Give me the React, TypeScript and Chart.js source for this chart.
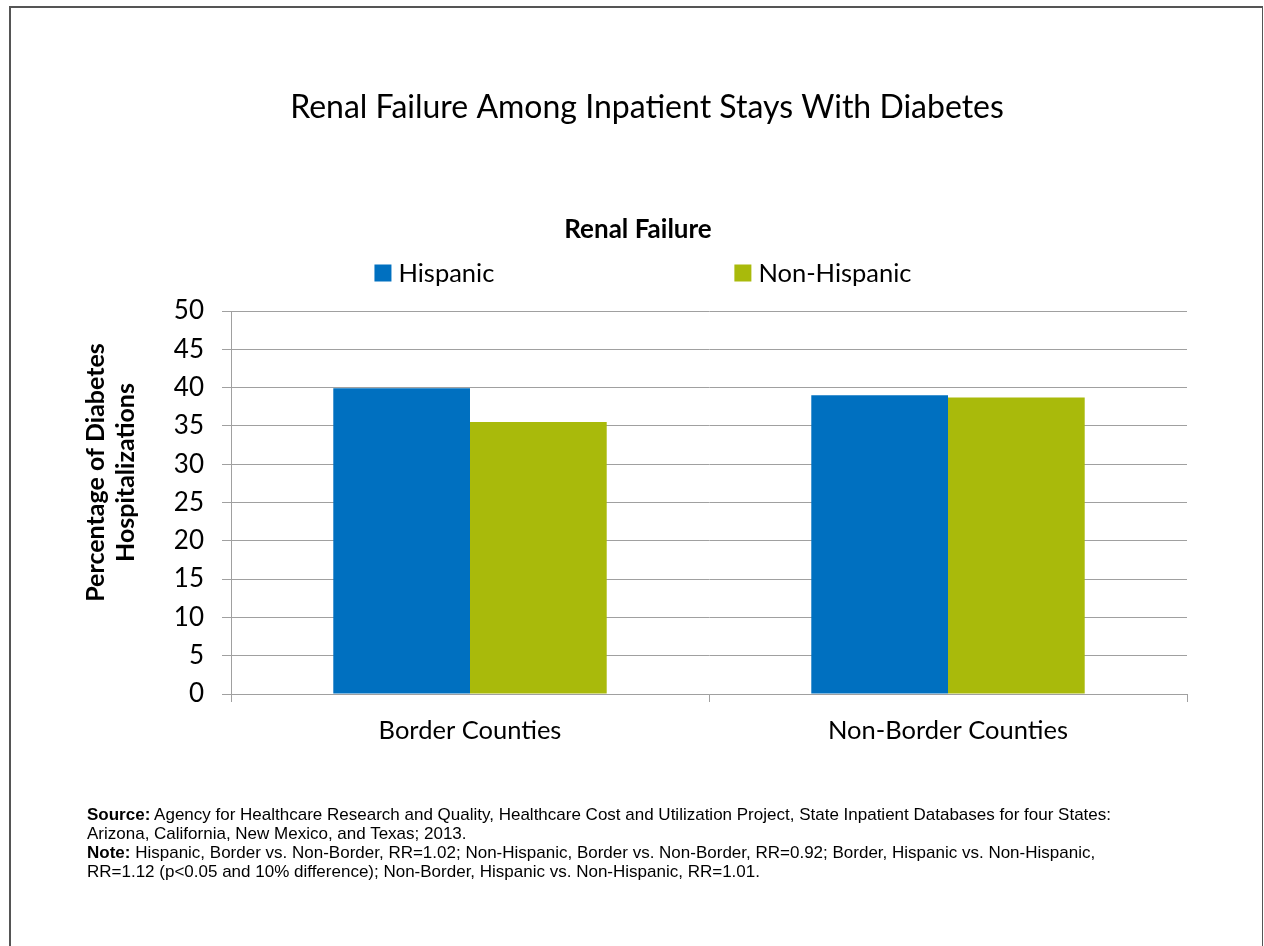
import React, { useEffect, useRef } from "react";
import { Chart, registerables } from "chart.js";

Chart.register(...registerables);

const categories = ["Border Counties", "Non-Border Counties"];
const seriesLabels = ["Hispanic", "Non-Hispanic"];
const hispanicValues = [39.9, 39.0];
const nonHispanicValues = [35.5, 38.7];
const seriesColors = ["#0070C0", "#A9BA0B"];
const yMin = 0;
const yMax = 50;
const yStep = 5;
const mainTitle = "Renal Failure Among Inpatient Stays With Diabetes";
const chartTitle = "Renal Failure";
const yTitleLines = ["Percentage of Diabetes", "Hospitalizations"];
const sourceLabel = "Source:";
const sourceLines = [
  " Agency for Healthcare Research and Quality, Healthcare Cost and Utilization Project, State Inpatient Databases for four States:",
  "Arizona, California, New Mexico, and Texas; 2013.",
];
const noteLabel = "Note:";
const noteLines = [
  " Hispanic, Border vs. Non-Border, RR=1.02; Non-Hispanic, Border vs. Non-Border, RR=0.92; Border, Hispanic vs. Non-Hispanic,",
  "RR=1.12 (p<0.05 and 10% difference); Non-Border, Hispanic vs. Non-Hispanic, RR=1.01.",
];

const FONT = "Lato, Carlito, Calibri, sans-serif";

const overlayPlugin = {
  id: "overlay",
  afterDraw(chart: any) {
    const ctx = chart.ctx as CanvasRenderingContext2D;
    const a = chart.chartArea;
    const cx = (a.left + a.right) / 2;
    ctx.save();
    ctx.fillStyle = "#000";
    ctx.textBaseline = "middle";

    // inner chart title
    ctx.textAlign = "center";
    ctx.font = `bold 26px ${FONT}`;
    ctx.fillText(chartTitle, cx - 71, a.top - 81);

    // legend
    ctx.font = `25.5px ${FONT}`;
    const ds = chart.data.datasets;
    const box = 17;
    const textGap = 7;
    const itemGap = 240;
    const widths = ds.map((d: any) => ctx.measureText(d.label).width);
    let total = 0;
    widths.forEach((w: number, i: number) => {
      total += box + textGap + w + (i < widths.length - 1 ? itemGap : 0);
    });
    let x = cx - 66 - total / 2;
    const ly = a.top - 38;
    ctx.textAlign = "left";
    ds.forEach((d: any, i: number) => {
      ctx.fillStyle = d.backgroundColor;
      ctx.fillRect(x, ly - box / 2, box, box);
      ctx.fillStyle = "#000";
      ctx.fillText(d.label, x + box + textGap, ly + 1);
      x += box + textGap + widths[i] + itemGap;
    });

    // y axis title
    ctx.font = `bold 25px ${FONT}`;
    ctx.textAlign = "center";
    const ty = (a.top + a.bottom) / 2 - 30;
    const offsets = [-135, -105];
    yTitleLines.forEach((line, i) => {
      ctx.save();
      ctx.translate(a.left + offsets[i], ty);
      ctx.rotate(-Math.PI / 2);
      ctx.fillText(line, 0, 0);
      ctx.restore();
    });
    ctx.restore();
  },
};

function ChartCanvas() {
  const ref = useRef<HTMLCanvasElement | null>(null);
  useEffect(() => {
    if (!ref.current) return;
    Chart.defaults.font.family = FONT;
    const chart = new Chart(ref.current, {
      type: "bar",
      data: {
        labels: categories,
        datasets: [
          {
            label: seriesLabels[0],
            data: hispanicValues,
            backgroundColor: seriesColors[0],
            borderWidth: 0,
          },
          {
            label: seriesLabels[1],
            data: nonHispanicValues,
            backgroundColor: seriesColors[1],
            borderWidth: 0,
          },
        ],
      },
      options: {
        responsive: false,
        animation: false,
        devicePixelRatio: 1,
        layout: { padding: { left: 107, right: 77, top: 0, bottom: 0 } },
        datasets: {
          bar: { categoryPercentage: 0.572, barPercentage: 1.0 },
        },
        plugins: {
          legend: { display: false },
          tooltip: { enabled: false },
          title: {
            display: true,
            text: mainTitle,
            color: "#000",
            font: { family: FONT, size: 32, weight: "normal" },
            padding: { top: 88.8, bottom: 183.8 },
          },
        },
        scales: {
          x: {
            type: "category",
            offset: true,
            grid: {
              display: true,
              drawOnChartArea: false,
              drawTicks: true,
              tickLength: 8,
              offset: true,
              color: "#A0A0A0",
            },
            border: { display: true, color: "#A0A0A0", width: 1 },
            ticks: {
              color: "#000",
              font: { family: FONT, size: 25.5 },
              padding: 13,
              maxRotation: 0,
            },
            afterFit(scale: any) {
              scale.height = 946 - 694;
            },
          },
          y: {
            min: yMin,
            max: yMax,
            ticks: {
              stepSize: yStep,
              color: "#000",
              font: { family: FONT, size: 26 },
              padding: 18,
            },
            grid: {
              color: "#A0A0A0",
              lineWidth: 1,
              tickLength: 9,
            },
            border: { display: true, color: "#A0A0A0", width: 1 },
            afterFit(scale: any) {
              scale.width = 231 - 107;
            },
          },
        },
      },
      plugins: [overlayPlugin],
    });
    return () => chart.destroy();
  }, []);
  return (
    <canvas
      ref={ref}
      width={1264}
      height={946}
      style={{ position: "absolute", left: 0, top: 0, width: 1264, height: 946 }}
    />
  );
}

export default function App() {
  return (
    <div>
      <div
        style={{
          position: "absolute",
          left: 9,
          top: 6,
          width: 1254,
          height: 940,
          boxSizing: "border-box",
          borderLeft: "2px solid #555",
          borderTop: "2px solid #555",
          borderRight: "1px solid #555",
          pointerEvents: "none",
        }}
      />
      <ChartCanvas />
      <div
        style={{
          position: "absolute",
          left: 87,
          top: 805,
          fontFamily: "'Liberation Sans', Arial, sans-serif",
          fontSize: 17,
          lineHeight: "19px",
          color: "#000",
          whiteSpace: "pre",
        }}
      >
        <div>
          <b>{sourceLabel}</b>
          {sourceLines[0]}
        </div>
        <div>{sourceLines[1]}</div>
        <div>
          <b>{noteLabel}</b>
          {noteLines[0]}
        </div>
        <div>{noteLines[1]}</div>
      </div>
    </div>
  );
}
